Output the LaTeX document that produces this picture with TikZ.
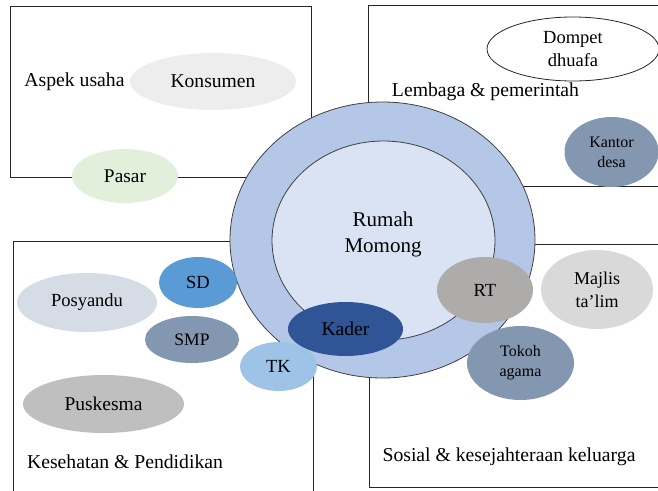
\documentclass[tikz,border=0pt]{standalone}
\usepackage{fontspec}
\setmainfont{Liberation Serif}
\usetikzlibrary{shapes}
\definecolor{outerring}{HTML}{B4C7E7}
\definecolor{innerring}{HTML}{DAE3F3}
\definecolor{slate}{HTML}{8497B0}
\tikzstyle{sector}=[draw=black!85,line width=1pt]
\tikzstyle{caption}=[inner sep=0pt,font=\fontsize{19.7}{23}\selectfont]
\tikzstyle{ring}=[ellipse,draw=black!75,line width=0.8pt,inner sep=0pt]
\tikzstyle{blob}=[ellipse,inner sep=0pt,align=center,font=\fontsize{18.5}{23}\selectfont]
\tikzstyle{sblob}=[blob,font=\fontsize{16}{20}\selectfont]
\begin{document}
\begin{tikzpicture}[x=1pt,y=-1pt]
            \useasboundingbox (0,0) rectangle (658,490);

            % SECTOR PART

            \draw[sector] (10,6) rectangle (311,177);
            \draw[sector] (662,5) -- (368,5) -- (368,186) -- (662,186);
            \draw[sector] (13,493) -- (13,241) -- (313,241) -- (313,493);
            \draw[sector] (662,244) -- (369,244) -- (369,487) -- (662,487);

            \node[caption] (usaha) at (74.5,82) {Aspek usaha};
            \node[caption] (lembaga) at (485.5,92) {Lembaga \& pemerintah};
            \node[caption] (sehat) at (125,462) {Kesehatan \& Pendidikan};
            \node[caption] (sosial) at (509,457) {Sosial \& kesejahteraan keluarga};

            % RUMAH MOMONG PART

            \node[ring,fill=outerring,minimum width=305pt,minimum height=276pt] (outer) at (382.5,240) {};
            \node[ring,fill=innerring,minimum width=223pt,minimum height=199pt] (rumah) at (383.5,240.5) {};
            \node[align=center,font=\fontsize{21}{26}\selectfont] (momong) at (383,234) {Rumah\\Momong};

            % ACTOR PART

            \node[blob,fill=black!7,minimum width=166pt,minimum height=57pt,font=\fontsize{19.6}{23}\selectfont] (konsumen) at (213,81.5) {Konsumen};
            \node[blob,fill={rgb,255:red,226;green,239;blue,218},minimum width=106pt,minimum height=54pt,font=\fontsize{19.4}{23}\selectfont] (pasar) at (125,176) {Pasar};
            \node[blob,draw=black!85,line width=0.8pt,fill=white,minimum width=172pt,minimum height=64pt] (dompet) at (573,49) {Dompet\\dhuafa};
            \node[sblob,fill=slate,minimum width=94pt,minimum height=70pt] (kantor) at (611.5,152) {Kantor\\desa};

            \node[blob,fill={rgb,255:red,214;green,220;blue,229},minimum width=140pt,minimum height=59pt] (posyandu) at (87,302.5) {Posyandu};
            \node[blob,fill={rgb,255:red,91;green,155;blue,213},minimum width=78pt,minimum height=51pt] (sd) at (198,282.5) {SD};
            \node[blob,fill=slate,minimum width=94pt,minimum height=47pt,font=\fontsize{17.5}{21}\selectfont] (smp) at (192,339.5) {SMP};
            \node[blob,fill=black!25,minimum width=161pt,minimum height=58pt,font=\fontsize{19.5}{23}\selectfont] (puskesma) at (103.5,404) {Puskesma};
            \node[blob,fill={rgb,255:red,47;green,85;blue,151},minimum width=115pt,minimum height=54pt,font=\fontsize{19.6}{23}\selectfont] (kader) at (345.5,329) {Kader};
            \node[blob,fill={rgb,255:red,157;green,195;blue,230},minimum width=77pt,minimum height=49pt] (tk) at (278.5,366.5) {TK};

            \node[blob,fill={rgb,255:red,174;green,171;blue,171},minimum width=96pt,minimum height=66pt] (rt) at (485,290) {RT};
            \node[blob,fill=black!15,minimum width=112pt,minimum height=79pt,font=\fontsize{18}{23}\selectfont] (majlis) at (597,289.5) {Majlis\\ta’lim};
            \node[sblob,fill=slate,minimum width=107pt,minimum height=74pt] (tokoh) at (520.5,363) {Tokoh\\agama};

\end{tikzpicture}
\end{document}
